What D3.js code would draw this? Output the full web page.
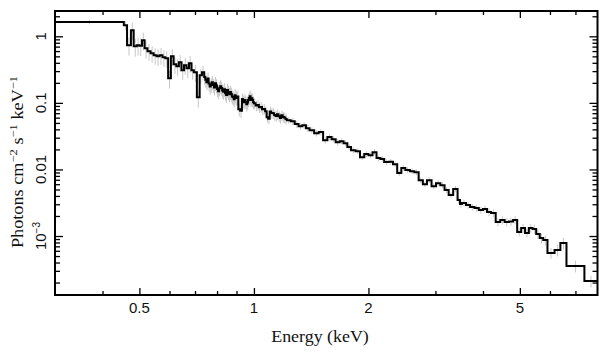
<!DOCTYPE html>
<html>
<head>
<meta charset="utf-8">
<script src="https://cdn.jsdelivr.net/npm/d3@7"></script>
<style>
  html, body { margin: 0; padding: 0; background: #fff; }
  svg { display: block; }
</style>
</head>
<body>
<svg id="chart" width="609" height="357"></svg>
<script>
// ---- Data ----
// Bin edges in keV (n+1 values)
const binEdges = [
  0.300, 0.455, 0.464, 0.475, 0.483, 0.492, 0.500, 0.508, 0.516, 0.525,
  0.535, 0.545, 0.555, 0.565, 0.575, 0.585, 0.595, 0.605, 0.615, 0.625,
  0.635, 0.645, 0.655, 0.665, 0.675, 0.685, 0.695, 0.708, 0.720, 0.730,
  0.740, 0.745, 0.750, 0.755, 0.760, 0.765, 0.770, 0.775, 0.780, 0.785,
  0.790, 0.795, 0.800, 0.805, 0.810, 0.815, 0.820, 0.825, 0.830, 0.835,
  0.840, 0.845, 0.850, 0.855, 0.860, 0.865, 0.870, 0.875, 0.880, 0.885,
  0.890, 0.895, 0.900, 0.905, 0.910, 0.920, 0.930, 0.935, 0.940, 0.945,
  0.950, 0.955, 0.960, 0.965, 0.970, 0.975, 0.980, 0.985, 0.990, 0.995,
  1.000, 1.010, 1.020, 1.030, 1.040, 1.050, 1.060, 1.070, 1.080, 1.090,
  1.100, 1.110, 1.120, 1.130, 1.140, 1.150, 1.160, 1.170, 1.180, 1.190,
  1.200, 1.210, 1.220, 1.25, 1.28, 1.31, 1.34, 1.37, 1.40, 1.44,
  1.48, 1.52, 1.56, 1.60, 1.64, 1.68, 1.72, 1.76, 1.80, 1.85,
  1.90, 1.95, 2.00, 2.05, 2.10, 2.15, 2.20, 2.26, 2.32, 2.38,
  2.44, 2.50, 2.57, 2.64, 2.71, 2.78, 2.85, 2.93, 3.01, 3.09,
  3.17, 3.25, 3.34, 3.43, 3.48, 3.52, 3.61, 3.70, 3.80, 3.90,
  4.00, 4.10, 4.20, 4.32, 4.44, 4.56, 4.68, 4.80, 4.92, 5.04,
  5.16, 5.28, 5.40, 5.52, 5.64, 5.76, 5.91, 6.17, 6.39, 6.63,
  7.39, 8.00
];
// Photon flux per bin (photons cm^-2 s^-1 keV^-1)
const flux = [
  1.64, 1.46, 0.733, 1.23, 0.708, 0.733, 0.72, 0.871, 0.66, 0.596,
  0.556, 0.519, 0.50, 0.519, 0.484, 0.467, 0.234, 0.50, 0.38, 0.355,
  0.408, 0.309, 0.367, 0.33, 0.394, 0.309, 0.289, 0.122, 0.26, 0.289,
  0.245, 0.222, 0.205, 0.232, 0.195, 0.176, 0.188, 0.205, 0.186, 0.170,
  0.198, 0.182, 0.162, 0.150, 0.166, 0.178, 0.168, 0.153, 0.147, 0.160,
  0.140, 0.131, 0.156, 0.144, 0.135, 0.146, 0.136, 0.125, 0.121, 0.113,
  0.130, 0.122, 0.118, 0.125, 0.080, 0.076, 0.114, 0.106, 0.102, 0.110,
  0.104, 0.095, 0.101, 0.110, 0.118, 0.126, 0.110, 0.117, 0.110, 0.102,
  0.099, 0.091, 0.093, 0.086, 0.087, 0.080, 0.081, 0.075, 0.061, 0.058,
  0.0745, 0.0705, 0.070, 0.0655, 0.0635, 0.0672, 0.0628, 0.0595, 0.065, 0.0615,
  0.0605, 0.0575, 0.055, 0.053, 0.048, 0.0445, 0.046, 0.0417, 0.0389, 0.0351,
  0.0364, 0.0275, 0.0306, 0.0285, 0.0257, 0.0266, 0.0248, 0.0217, 0.0195, 0.0188,
  0.0153, 0.017, 0.0164, 0.0182, 0.0148, 0.0143, 0.0129, 0.0131, 0.012, 0.00881,
  0.0105, 0.00977, 0.0094, 0.0091, 0.0069, 0.006, 0.0069, 0.0056, 0.0062, 0.0058,
  0.0049, 0.00412, 0.0051, 0.00347, 0.00302, 0.00313, 0.00292, 0.00272, 0.00263, 0.00245,
  0.00254, 0.00229, 0.00221, 0.00162, 0.00174, 0.00162, 0.00165, 0.00174, 0.00115, 0.00132,
  0.00111, 0.00132, 0.00128, 0.00107, 0.00093, 0.00087, 0.000556, 0.000617, 0.000785, 0.000355,
  0.000211
];
// Relative 1-sigma uncertainty per bin
const relErr = [
  0.08, 0.15, 0.30, 0.30, 0.30, 0.30, 0.30, 0.30, 0.30, 0.28,
  0.28, 0.28, 0.28, 0.28, 0.28, 0.28, 0.30, 0.28, 0.28, 0.28,
  0.28, 0.28, 0.28, 0.28, 0.28, 0.28, 0.28, 0.30, 0.25, 0.25,
  0.24, 0.24, 0.24, 0.24, 0.24, 0.24, 0.24, 0.24, 0.24, 0.24,
  0.24, 0.24, 0.24, 0.24, 0.24, 0.24, 0.24, 0.24, 0.24, 0.24,
  0.24, 0.24, 0.24, 0.24, 0.24, 0.24, 0.24, 0.24, 0.24, 0.24,
  0.24, 0.24, 0.24, 0.24, 0.22, 0.22, 0.22, 0.22, 0.22, 0.22,
  0.22, 0.22, 0.22, 0.22, 0.22, 0.22, 0.22, 0.22, 0.22, 0.22,
  0.18, 0.18, 0.18, 0.18, 0.18, 0.18, 0.18, 0.18, 0.18, 0.18,
  0.18, 0.18, 0.18, 0.18, 0.18, 0.18, 0.18, 0.18, 0.18, 0.18,
  0.18, 0.18, 0.12, 0.12, 0.12, 0.12, 0.12, 0.12, 0.11, 0.11,
  0.11, 0.11, 0.11, 0.11, 0.11, 0.10, 0.10, 0.10, 0.10, 0.10,
  0.10, 0.10, 0.10, 0.10, 0.10, 0.10, 0.10, 0.10, 0.10, 0.10,
  0.10, 0.10, 0.10, 0.10, 0.10, 0.10, 0.10, 0.10, 0.11, 0.11,
  0.11, 0.11, 0.11, 0.11, 0.12, 0.12, 0.12, 0.12, 0.12, 0.12,
  0.12, 0.13, 0.13, 0.13, 0.14, 0.14, 0.14, 0.14, 0.14, 0.15,
  0.15, 0.15, 0.16, 0.16, 0.17, 0.18, 0.18, 0.20, 0.20, 0.20,
  0.20
];

// Axis ticks
const xMajorTicks = [0.5, 1, 2, 5];
const xMajorLabels = ["0.5", "1", "2", "5"];
const xMinorTicks = [0.4, 0.6, 0.7, 0.8, 0.9, 3, 4, 6, 7];
const yMajorTicks = [1, 0.1, 0.01, 0.001];
const yMajorLabels = [["1", ""], ["0.1", ""], ["0.01", ""], ["10", "\u22123"]];
const yMinorTicks = [2,
  0.2, 0.3, 0.4, 0.5, 0.6, 0.7, 0.8, 0.9,
  0.02, 0.03, 0.04, 0.05, 0.06, 0.07, 0.08, 0.09,
  0.002, 0.003, 0.004, 0.005, 0.006, 0.007, 0.008, 0.009,
  0.0002, 0.0003, 0.0004, 0.0005, 0.0006, 0.0007, 0.0008, 0.0009];

// ---- Layout ----
const plot = { left: 55, right: 597.5, top: 11, bottom: 295 };
const svg = d3.select("#chart");

const x = d3.scaleLog().domain([0.3, 8]).range([plot.left, plot.right]);
const y = d3.scaleLog().domain([1.3e-4, 2.4]).range([plot.bottom, plot.top]);

const bins = flux.map((f, i) => ({ lo: binEdges[i], hi: binEdges[i + 1], f: f, e: (relErr[i] ?? 0.15) }));

// Error bars (grey)
svg.append("g")
  .selectAll("line")
  .data(bins)
  .join("line")
  .attr("x1", d => x(Math.sqrt(d.lo * d.hi)))
  .attr("x2", d => x(Math.sqrt(d.lo * d.hi)))
  .attr("y1", d => y(d.f * (1 + d.e)))
  .attr("y2", d => y(Math.max(d.f * (1 - d.e), 1.3e-4)))
  .attr("stroke", "#c6c6c6")
  .attr("stroke-width", 1);

// Step histogram
const pts = [];
bins.forEach(b => { pts.push([b.lo, b.f]); pts.push([b.hi, b.f]); });
const line = d3.line().x(d => x(d[0])).y(d => y(d[1]));
svg.append("path")
  .attr("d", line(pts))
  .attr("fill", "none")
  .attr("stroke", "#000")
  .attr("stroke-width", 2)
  .attr("stroke-linejoin", "miter");

// Ticks via d3 axes (inward)
function tickGroup(axisFn, scale, vals, size, transform) {
  const g = svg.append("g").attr("transform", transform)
    .call(axisFn(scale).tickValues(vals).tickSize(size).tickFormat(""));
  g.select(".domain").remove();
  g.selectAll(".tick line").attr("stroke", "#000").attr("stroke-width", 1.3);
  return g;
}
tickGroup(d3.axisBottom, x, xMajorTicks, -7, `translate(0,${plot.bottom})`);
tickGroup(d3.axisBottom, x, xMinorTicks, -4, `translate(0,${plot.bottom})`);
tickGroup(d3.axisTop, x, xMajorTicks, -7, `translate(0,${plot.top})`);
tickGroup(d3.axisTop, x, xMinorTicks, -4, `translate(0,${plot.top})`);
tickGroup(d3.axisLeft, y, yMajorTicks, -8, `translate(${plot.left},0)`);
tickGroup(d3.axisLeft, y, yMinorTicks, -5, `translate(${plot.left},0)`);
tickGroup(d3.axisRight, y, yMajorTicks, -8, `translate(${plot.right},0)`);
tickGroup(d3.axisRight, y, yMinorTicks, -5, `translate(${plot.right},0)`);

// Frame
svg.append("rect")
  .attr("x", plot.left).attr("y", plot.top)
  .attr("width", plot.right - plot.left).attr("height", plot.bottom - plot.top)
  .attr("fill", "none").attr("stroke", "#000").attr("stroke-width", 2);

// X tick labels
svg.append("g").selectAll("text")
  .data(xMajorTicks)
  .join("text")
  .attr("x", d => x(d))
  .attr("y", 313)
  .attr("text-anchor", "middle")
  .attr("font-family", "Liberation Sans, Arial, sans-serif")
  .attr("font-size", 15)
  .attr("fill", "#111")
  .text((d, i) => xMajorLabels[i]);

// Y tick labels (rotated)
yMajorTicks.forEach((v, i) => {
  const t = svg.append("text")
    .attr("transform", `translate(46,${y(v)}) rotate(-90)`)
    .attr("text-anchor", "middle")
    .attr("font-family", "Liberation Sans, Arial, sans-serif")
    .attr("font-size", 15)
    .attr("fill", "#111");
  t.append("tspan").text(yMajorLabels[i][0]);
  if (yMajorLabels[i][1]) {
    t.append("tspan").attr("dy", -6).attr("font-size", 10).text(yMajorLabels[i][1]);
  }
});

// Axis titles
svg.append("text")
  .attr("transform", "translate(320,342) scale(1.12,1)")
  .attr("text-anchor", "middle")
  .attr("font-family", "Liberation Serif, Times New Roman, serif")
  .attr("font-size", 16)
  .attr("fill", "#111")
  .text("Energy (keV)");

const yt = svg.append("text")
  .attr("transform", "translate(23,162) rotate(-90) scale(1.14,1)")
  .attr("text-anchor", "middle")
  .attr("font-family", "Liberation Serif, Times New Roman, serif")
  .attr("font-size", 16)
  .attr("fill", "#111");
yt.append("tspan").text("Photons cm");
yt.append("tspan").attr("dy", -6).attr("font-size", 11).text("\u22122");
yt.append("tspan").attr("dy", 6).text(" s");
yt.append("tspan").attr("dy", -6).attr("font-size", 11).text("\u22121");
yt.append("tspan").attr("dy", 6).text(" keV");
yt.append("tspan").attr("dy", -6).attr("font-size", 11).text("\u22121");
</script>
</body>
</html>
